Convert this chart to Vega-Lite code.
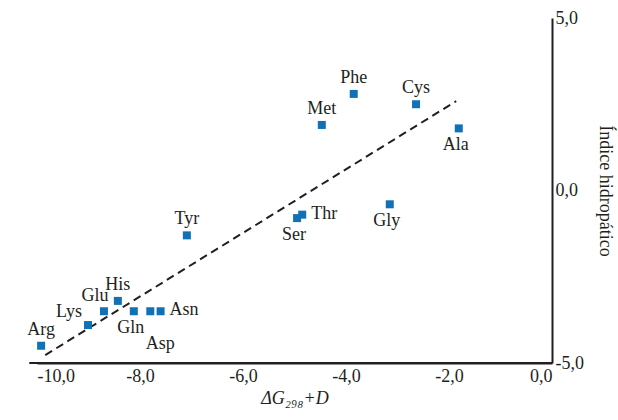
{
  "$schema": "https://vega.github.io/schema/vega-lite/v6.json",
  "autosize": {"type": "none"},
  "width": 515,
  "height": 345,
  "padding": {"left": 37, "top": 18, "right": 66, "bottom": 57},
  "background": "white",
  "config": {
    "view": {"stroke": null},
    "font": "Liberation Serif",
    "text": {"font": "Liberation Serif", "fontSize": 18, "fill": "#231f20"}
  },
  "datasets": {
    "pts": [
      {"aa": "Arg", "dg": -9.92, "hi": -4.5},
      {"aa": "Lys", "dg": -9.01, "hi": -3.9},
      {"aa": "Glu", "dg": -8.7, "hi": -3.5},
      {"aa": "His", "dg": -8.43, "hi": -3.2},
      {"aa": "Gln", "dg": -8.12, "hi": -3.5},
      {"aa": "Asp", "dg": -7.8, "hi": -3.5},
      {"aa": "Asn", "dg": -7.6, "hi": -3.5},
      {"aa": "Tyr", "dg": -7.09, "hi": -1.3},
      {"aa": "Ser", "dg": -4.95, "hi": -0.8},
      {"aa": "Thr", "dg": -4.85, "hi": -0.7},
      {"aa": "Gly", "dg": -3.15, "hi": -0.4},
      {"aa": "Met", "dg": -4.47, "hi": 1.9},
      {"aa": "Phe", "dg": -3.85, "hi": 2.8},
      {"aa": "Cys", "dg": -2.64, "hi": 2.5},
      {"aa": "Ala", "dg": -1.81, "hi": 1.8}
    ],
    "fit": [
      {"dg": -9.84, "hi": -4.77},
      {"dg": -1.86, "hi": 2.59}
    ],
    "axisx": [
      {"dg": -10.15, "hi": -5},
      {"dg": 0, "hi": -5}
    ]
  },
  "layer": [
    {
      "data": {"name": "axisx"},
      "mark": {"type": "line", "color": "#231f20", "strokeWidth": 2},
      "encoding": {
        "x": {"field": "dg", "type": "quantitative"},
        "y": {"field": "hi", "type": "quantitative"}
      }
    },
    {
      "data": {"name": "fit"},
      "mark": {"type": "line", "color": "#231f20", "strokeWidth": 2, "strokeDash": [8, 5]},
      "encoding": {
        "x": {
          "field": "dg", "type": "quantitative",
          "scale": {"domain": [-10, 0], "nice": false, "zero": false},
          "axis": {
            "orient": "bottom",
            "values": [-10, -8, -6, -4, -2, 0],
            "labelExpr": "replace(replace(format(datum.value, '.1f'), '.', ','), '\u2212', '-')",
            "labelFont": "Liberation Serif",
            "labelFontSize": 18,
            "labelColor": "#231f20",
            "labelPadding": 4,
            "ticks": false,
            "grid": false,
            "domainColor": "#231f20",
            "domainWidth": 2,
            "title": "ΔG₂₉₈+D",
            "titleFont": "Liberation Serif",
            "titleFontSize": 18,
            "titleFontWeight": "normal",
            "titleFontStyle": "italic",
            "titleColor": "#231f20",
            "titlePadding": 4
          }
        },
        "y": {
          "field": "hi", "type": "quantitative",
          "scale": {"domain": [-5, 5], "nice": false, "zero": false},
          "axis": {
            "orient": "right",
            "values": [-5, 0, 5],
            "labelExpr": "replace(replace(format(datum.value, '.1f'), '.', ','), '\u2212', '-')",
            "labelFont": "Liberation Serif",
            "labelFontSize": 18,
            "labelColor": "#231f20",
            "labelPadding": 3,
            "ticks": false,
            "grid": false,
            "domainColor": "#231f20",
            "domainWidth": 2,
            "title": "Índice hidropático",
            "titleFont": "Liberation Serif",
            "titleFontSize": 18,
            "titleFontWeight": "normal",
            "titleColor": "#231f20",
            "titleAngle": 90,
            "titlePadding": 12
          }
        }
      }
    },
    {
      "data": {"name": "pts"},
      "mark": {"type": "square", "size": 64, "color": "#1071b7", "opacity": 1, "filled": true},
      "encoding": {
        "x": {"field": "dg", "type": "quantitative"},
        "y": {"field": "hi", "type": "quantitative"}
      }
    },
    {
      "data": {"name": "pts"},
      "transform": [{"filter": {"field": "aa", "oneOf": ["Phe", "Cys", "Met", "Tyr", "His", "Arg"]}}],
      "mark": {"type": "text", "dy": -16, "align": "center", "baseline": "middle"},
      "encoding": {
        "x": {"field": "dg", "type": "quantitative"},
        "y": {"field": "hi", "type": "quantitative"},
        "text": {"field": "aa"}
      }
    },
    {
      "data": {"name": "pts"},
      "transform": [{"filter": {"field": "aa", "oneOf": ["Glu"]}}],
      "mark": {"type": "text", "dx": -9, "dy": -15, "align": "center", "baseline": "middle"},
      "encoding": {
        "x": {"field": "dg", "type": "quantitative"},
        "y": {"field": "hi", "type": "quantitative"},
        "text": {"field": "aa"}
      }
    },
    {
      "data": {"name": "pts"},
      "transform": [{"filter": {"field": "aa", "oneOf": ["Lys"]}}],
      "mark": {"type": "text", "dx": -19, "dy": -13, "align": "center", "baseline": "middle"},
      "encoding": {
        "x": {"field": "dg", "type": "quantitative"},
        "y": {"field": "hi", "type": "quantitative"},
        "text": {"field": "aa"}
      }
    },
    {
      "data": {"name": "pts"},
      "transform": [{"filter": {"field": "aa", "oneOf": ["Gln", "Ser", "Gly", "Ala"]}}],
      "mark": {"type": "text", "dx": -3, "dy": 17, "align": "center", "baseline": "middle"},
      "encoding": {
        "x": {"field": "dg", "type": "quantitative"},
        "y": {"field": "hi", "type": "quantitative"},
        "text": {"field": "aa"}
      }
    },
    {
      "data": {"name": "pts"},
      "transform": [{"filter": {"field": "aa", "oneOf": ["Thr", "Asn"]}}],
      "mark": {"type": "text", "dx": 9, "dy": -1, "align": "left", "baseline": "middle"},
      "encoding": {
        "x": {"field": "dg", "type": "quantitative"},
        "y": {"field": "hi", "type": "quantitative"},
        "text": {"field": "aa"}
      }
    },
    {
      "data": {"name": "pts"},
      "transform": [{"filter": {"field": "aa", "oneOf": ["Asp"]}}],
      "mark": {"type": "text", "dx": 10, "dy": 33, "align": "center", "baseline": "middle"},
      "encoding": {
        "x": {"field": "dg", "type": "quantitative"},
        "y": {"field": "hi", "type": "quantitative"},
        "text": {"field": "aa"}
      }
    }
  ]
}
